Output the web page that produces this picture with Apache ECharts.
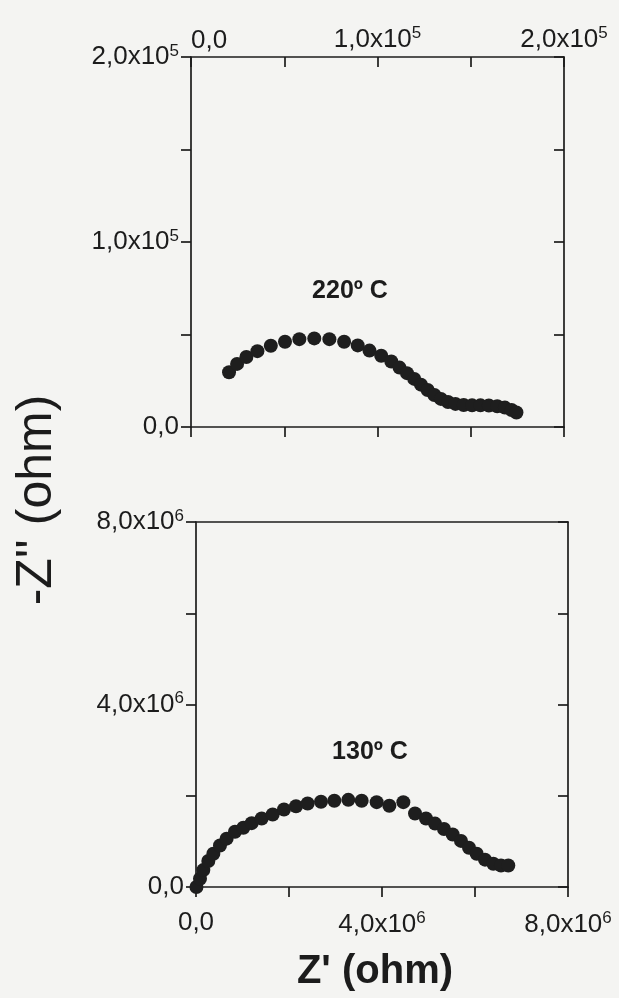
<!DOCTYPE html>
<html><head><meta charset="utf-8">
<script src="https://cdn.jsdelivr.net/npm/echarts@6/dist/echarts.min.js"></script>
<style>html,body{margin:0;padding:0;background:#f4f4f2}#c{width:619px;height:998px}</style>
</head><body><div id="c"></div>
<script>
// 220 ºC panel data (ohm)
const hotLabel = '220º C';
const hotZre = [20400, 24700, 29700, 35600, 42800, 50400, 58100, 66100, 74200, 82100, 89400, 95700, 102000, 107400, 111800, 115800, 119700, 123300, 126900, 130500, 134000, 137800, 141800, 146200, 150700, 155200, 159700, 164200, 168300, 171900, 174500];
const hotZim = [29600, 34100, 37800, 41000, 43900, 46100, 47500, 47900, 47500, 46100, 44100, 41300, 38500, 35400, 32100, 29100, 26000, 22900, 20000, 17300, 15200, 13500, 12500, 11900, 11700, 11700, 11600, 11200, 10500, 9200, 7800];
// 130 ºC panel data (ohm)
const coldLabel = '130º C';
const coldZre = [10000, 86000, 157000, 265000, 373000, 516000, 659000, 839000, 1018000, 1197000, 1412000, 1649000, 1892000, 2151000, 2401000, 2688000, 2975000, 3276000, 3563000, 3885000, 4158000, 4459000, 4710000, 4946000, 5140000, 5333000, 5520000, 5699000, 5871000, 6036000, 6215000, 6394000, 6559000, 6716000];
const coldZim = [0, 180000, 370000, 570000, 730000, 910000, 1060000, 1210000, 1300000, 1400000, 1500000, 1590000, 1700000, 1770000, 1830000, 1870000, 1890000, 1910000, 1890000, 1860000, 1780000, 1860000, 1610000, 1500000, 1390000, 1270000, 1150000, 1010000, 860000, 730000, 600000, 510000, 470000, 470000];
// tick labels
const hotTickValues = [0, 100000, 200000];
const hotTickLabels = ['0,0', '1,0x10{s|5}', '2,0x10{s|5}'];
const coldTickValues = [0, 4000000, 8000000];
const coldTickLabels = ['0,0', '4,0x10{s|6}', '8,0x10{s|6}'];
const xName = "Z' (ohm)";
const yName = "-Z'' (ohm)";

const FONT = 'Liberation Sans, Arial, sans-serif';
const INK = '#1c1c1c';
function fmt(values, labels) {
  return v => { const i = values.indexOf(v); return i >= 0 ? labels[i] : ''; };
}
const rich = { s: { fontSize: 17, fontFamily: FONT, color: INK, padding: [0, 0, 12, 0] } };
const line = { show: true, onZero: false, lineStyle: { color: INK, width: 1.7 } };
function lbl(values, labels, show, margin) {
  return { show: show, formatter: fmt(values, labels), rich: rich, fontSize: 26, fontFamily: FONT, color: INK, margin: margin, showMinLabel: true, showMaxLabel: true, hideOverlap: false };
}
function tick(inside, show) {
  return { show: show !== false, inside: inside, length: 10, lineStyle: { color: INK, width: 1.7 } };
}
function ax(grid, pos, min, max, step, values, labels, showLabel, inside, showTick, margin) {
  return { type: 'value', gridIndex: grid, position: pos, min: min, max: max, interval: step,
    axisLine: line, axisTick: tick(inside, showTick), axisLabel: lbl(values, labels, showLabel, margin || 8), splitLine: { show: false } };
}
const topHotAxis = ax(0, 'top', 0, 200000, 50000, hotTickValues, hotTickLabels, true, true, true, 3);
topHotAxis.axisLabel.alignMinLabel = 'left';

const option = {
  backgroundColor: '#f4f4f2',
  animation: false,
  grid: [
    { left: 191, top: 57, width: 373, height: 370 },
    { left: 196, top: 522, width: 372, height: 365 }
  ],
  xAxis: [
    ax(0, 'bottom', 0, 200000, 50000, hotTickValues, hotTickLabels, false, false),
    topHotAxis,
    ax(1, 'bottom', 0, 8000000, 2000000, coldTickValues, coldTickLabels, true, false, true, 23),
    ax(1, 'top', 0, 8000000, 2000000, coldTickValues, coldTickLabels, false, true, false)
  ],
  yAxis: [
    ax(0, 'left', 0, 200000, 50000, hotTickValues, hotTickLabels, true, false, true, 12),
    ax(0, 'right', 0, 200000, 50000, hotTickValues, hotTickLabels, false, true),
    ax(1, 'left', 0, 8000000, 2000000, coldTickValues, coldTickLabels, true, false, true, 12),
    ax(1, 'right', 0, 8000000, 2000000, coldTickValues, coldTickLabels, false, true)
  ],
  series: [
    { type: 'scatter', name: hotLabel, xAxisIndex: 0, yAxisIndex: 0, symbolSize: 14,
      itemStyle: { color: '#1e1e1e', opacity: 1 }, data: hotZre.map((x, i) => [x, hotZim[i]]) },
    { type: 'scatter', name: coldLabel, xAxisIndex: 2, yAxisIndex: 2, symbolSize: 14,
      itemStyle: { color: '#1e1e1e', opacity: 1 }, data: coldZre.map((x, i) => [x, coldZim[i]]) }
  ],
  graphic: [
    { type: 'text', x: 350, y: 291, style: { text: hotLabel, fontSize: 25, fontWeight: 'bold', fontFamily: FONT, fill: INK, align: 'center', verticalAlign: 'middle' } },
    { type: 'text', x: 370, y: 752, style: { text: coldLabel, fontSize: 25, fontWeight: 'bold', fontFamily: FONT, fill: INK, align: 'center', verticalAlign: 'middle' } },
    { type: 'text', x: 375, y: 972, style: { text: xName, fontSize: 40, fontWeight: 'bold', fontFamily: FONT, fill: INK, align: 'center', verticalAlign: 'middle' } },
    { type: 'text', x: 37, y: 500, rotation: Math.PI / 2, style: { text: yName, fontSize: 50, fontFamily: FONT, fill: INK, align: 'center', verticalAlign: 'middle' } }
  ]
};
echarts.init(document.getElementById('c'), null, { renderer: 'canvas' }).setOption(option);
</script></body></html>
